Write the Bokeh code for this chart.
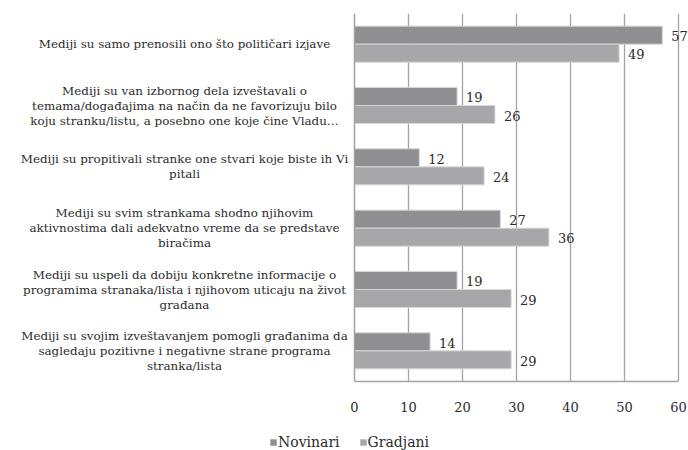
from bokeh.plotting import figure
from bokeh.layouts import column
from bokeh.models import (ColumnDataSource, LabelSet, Legend, LegendItem,
                          FactorRange, FixedTicker, Span)
from bokeh.transform import dodge
from bokeh.core.properties import value
from bokeh.embed import file_html
from bokeh.resources import INLINE

categories = [
    "Mediji su samo prenosili ono što političari izjave",
    "Mediji su van izbornog dela izveštavali o\ntemama/događajima na način da ne favorizuju bilo\nkoju stranku/listu, a posebno one koje čine Vladu…",
    "Mediji su propitivali stranke one stvari koje biste ih Vi\npitali",
    "Mediji su svim strankama shodno njihovim\naktivnostima dali adekvatno vreme da se predstave\nbiračima",
    "Mediji su uspeli da dobiju konkretne informacije o\nprogramima stranaka/lista i njihovom uticaju na život\ngrađana",
    "Mediji su svojim izveštavanjem pomogli građanima da\nsagledaju pozitivne i negativne strane programa\nstranka/lista",
]
novinari = [57, 19, 12, 27, 19, 14]
gradjani = [49, 26, 24, 36, 29, 29]
x_ticks = [0, 10, 20, 30, 40, 50, 60]
series_names = ["Novinari", "Gradjani"]

FONT = "DejaVu Serif"
TEXT = "#2b2b2b"
C_NOV = "#8f8f92"
C_GRA = "#a7a7aa"
EDGE = "#d6d6d8"
GRID = "#a3a3a3"

W = 688
H_MAIN, H_LEG = 430, 20
FRAME_LEFT = 2         # frame's left pixel (frame spans to the right edge)
AXIS_PX = 354          # pixel of value 0
PX_PER_UNIT = 5.4      # pixels per unit on the value axis
LABEL_CENTER_PX = 184  # pixel centre of the category texts
LEGEND_LEFT_PX = 269   # left pixel of the legend
TOP, BOTTOM = 13, 49
LINE_PX = 15           # line spacing of category texts

keys = ["c%d" % i for i in range(len(categories))]
src = ColumnDataSource(dict(
    cat=keys, nov=novinari, gra=gradjani,
    nov_txt=[str(v) for v in novinari], gra_txt=[str(v) for v in gradjani],
))

unit_px = (H_MAIN - TOP - BOTTOM) / len(keys)
line_units = LINE_PX / unit_px
lines, line_pos = [], []
for key, text in zip(keys, categories):
    parts = text.split("\n")
    n = len(parts)
    for k, t in enumerate(parts):
        lines.append(t)
        line_pos.append([key, ((n - 1) / 2 - k) * line_units])
line_src = ColumnDataSource(dict(text=lines, y=line_pos))

x_start = -(AXIS_PX - FRAME_LEFT) / PX_PER_UNIT
x_end = (W - AXIS_PX) / PX_PER_UNIT

p = figure(width=W, height=H_MAIN, y_range=FactorRange(*reversed(keys)),
           x_range=(x_start, x_end), output_backend="svg",
           toolbar_location=None, min_border_left=FRAME_LEFT,
           min_border_right=0, min_border_top=TOP, min_border_bottom=BOTTOM)
p.outline_line_color = None
p.background_fill_color = "white"

BH = 0.294
OFF = BH / 2
p.hbar(y=dodge("cat", OFF, range=p.y_range), left=0, right="nov",
       height=BH, source=src, fill_color=C_NOV, line_color=EDGE, line_width=1)
p.hbar(y=dodge("cat", -OFF, range=p.y_range), left=0, right="gra",
       height=BH, source=src, fill_color=C_GRA, line_color=EDGE, line_width=1)

for col, off in (("nov", OFF), ("gra", -OFF)):
    p.add_layout(LabelSet(x=col, y=dodge("cat", off, range=p.y_range),
                          text=col + "_txt", source=src, x_offset=9, y_offset=-1,
                          text_baseline="middle", text_align="left",
                          text_font=value(FONT), text_font_size="13px",
                          text_color=TEXT))

LABEL_X = (LABEL_CENTER_PX - AXIS_PX) / PX_PER_UNIT
p.add_layout(LabelSet(x=LABEL_X, y="y", text="text", source=line_src,
                      text_align="center", text_baseline="middle",
                      text_font=value(FONT), text_font_size="11.9px",
                      text_color=TEXT))

p.xaxis.ticker = FixedTicker(ticks=x_ticks)
p.xaxis.bounds = (x_ticks[0], x_ticks[-1])
p.xaxis.major_tick_line_color = None
p.xaxis.minor_tick_line_color = None
p.xaxis.axis_line_color = GRID
p.xaxis.axis_line_width = 1.3
p.xaxis.major_label_text_font = FONT
p.xaxis.major_label_text_font_size = "13px"
p.xaxis.major_label_text_color = TEXT
p.xaxis.major_label_standoff = 14

p.yaxis.visible = False
p.add_layout(Span(location=0, dimension="height", line_color=GRID,
                  line_width=1.3))

p.xgrid.ticker = FixedTicker(ticks=x_ticks)
p.xgrid.grid_line_color = GRID
p.xgrid.grid_line_width = 1.3
p.ygrid.grid_line_color = None

# legend strip below the chart (its bars fall far outside its view on purpose)
pl = figure(width=W, height=H_LEG, output_backend="svg", toolbar_location=None,
            min_border_left=FRAME_LEFT, min_border_right=0, min_border_top=0,
            min_border_bottom=0, x_range=(-3, -2), y_range=(-3, -2))
pl.axis.visible = False
pl.grid.visible = False
pl.outline_line_color = None
ln = pl.hbar(y="nov", left=0, right="nov", height=1, source=src,
             fill_color=C_NOV, line_color=None)
lg = pl.hbar(y="gra", left=0, right="gra", height=1, source=src,
             fill_color=C_GRA, line_color=None)
legend = Legend(items=[LegendItem(label=series_names[0], renderers=[ln]),
                       LegendItem(label=series_names[1], renderers=[lg])],
                location=(LEGEND_LEFT_PX - FRAME_LEFT, 0),
                orientation="horizontal",
                glyph_width=8, glyph_height=8, label_standoff=1, spacing=19,
                padding=0, margin=0, border_line_color=None,
                background_fill_alpha=0, label_text_font=FONT,
                label_text_font_size="14px", label_text_color=TEXT)
pl.add_layout(legend, "center")

layout = column(p, pl, spacing=0)
open("out.html", "w").write(file_html(layout, INLINE))
